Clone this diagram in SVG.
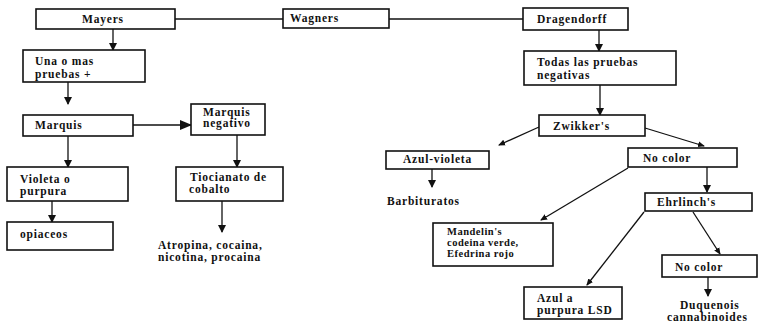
<svg xmlns="http://www.w3.org/2000/svg" width="769" height="324" viewBox="0 0 769 324">
<defs>
<marker id="ah" markerWidth="8" markerHeight="8" refX="7" refY="4" orient="auto" markerUnits="userSpaceOnUse">
<path d="M0,0 L8,4 L0,8 Z" fill="#111"/>
</marker>
<marker id="ahb" markerWidth="12" markerHeight="10" refX="11" refY="5" orient="auto" markerUnits="userSpaceOnUse">
<path d="M0,0 L12,5 L0,10 Z" fill="#111"/>
</marker>
<marker id="dot" markerWidth="8" markerHeight="8" refX="6" refY="4" orient="auto" markerUnits="userSpaceOnUse">
<path d="M0,1 L7,4 L0,7 Z" fill="#111"/>
</marker>
</defs>
<style>
rect{fill:#fff;stroke:#111;stroke-width:1.6}
text{font-family:"Liberation Serif","Times New Roman",serif;font-weight:bold;font-size:11.5px;letter-spacing:0.8px;fill:#111}
.sm{font-size:10.5px;letter-spacing:0.5px}
.c line,.c polyline{stroke:#111;stroke-width:1.3;fill:none}
</style>
<g class="c" id="connectors">
<line x1="175" y1="19" x2="283" y2="19"/>
<line x1="389" y1="19" x2="523" y2="19"/>
<line x1="113" y1="29" x2="113" y2="50" marker-end="url(#ah)"/>
<line x1="68" y1="82" x2="68" y2="104" marker-end="url(#ah)"/>
<line x1="133" y1="125" x2="191" y2="125" marker-end="url(#ahb)"/>
<line x1="68" y1="136" x2="68" y2="167" marker-end="url(#ah)"/>
<line x1="237" y1="135" x2="237" y2="167" marker-end="url(#ah)"/>
<line x1="52" y1="201" x2="52" y2="222" marker-end="url(#ah)"/>
<line x1="222" y1="201" x2="222" y2="232" marker-end="url(#ah)"/>
<line x1="599" y1="30" x2="599" y2="51" marker-end="url(#ah)"/>
<line x1="600" y1="85" x2="600" y2="115" marker-end="url(#ah)"/>
<line x1="539" y1="127" x2="499" y2="145" marker-end="url(#dot)"/>
<line x1="645" y1="128" x2="704" y2="146" marker-end="url(#dot)"/>
<line x1="432" y1="169" x2="432" y2="187" marker-end="url(#ah)"/>
<line x1="707" y1="167" x2="707" y2="192" marker-end="url(#ah)"/>
<line x1="628" y1="168" x2="541" y2="220" marker-end="url(#dot)"/>
<line x1="644" y1="212" x2="587" y2="285" marker-end="url(#dot)"/>
<line x1="693" y1="212" x2="720" y2="254" marker-end="url(#dot)"/>
<line x1="708" y1="277" x2="708" y2="296" marker-end="url(#ah)"/>
</g>
<g id="mayers"><rect x="36" y="9" width="139" height="20"/><text x="82" y="23">Mayers</text></g>
<g id="wagners"><rect x="283" y="9" width="106" height="19"/><text x="290" y="22">Wagners</text></g>
<g id="dragendorff"><rect x="523" y="8" width="105" height="22"/><text x="537" y="23">Dragendorff</text></g>
<g id="una"><rect x="23" y="50" width="122" height="32"/><text x="35" y="65">Una o mas</text><text x="35" y="78">pruebas +</text></g>
<g id="marquis"><rect x="23" y="115" width="110" height="21"/><text x="35" y="129">Marquis</text></g>
<g id="marquisneg"><rect x="191" y="104" width="74" height="31"/><text x="203" y="116">Marquis</text><text x="203" y="127">negativo</text></g>
<g id="violeta"><rect x="7" y="167" width="121" height="34"/><text x="20" y="183">Violeta o</text><text x="20" y="195">purpura</text></g>
<g id="opiaceos"><rect x="7" y="222" width="106" height="28"/><text x="20" y="238">opiaceos</text></g>
<g id="tiocianato"><rect x="176" y="167" width="107" height="34"/><text x="190" y="181">Tiocianato de</text><text x="189" y="193">cobalto</text></g>
<g id="atropina"><text x="158" y="249">Atropina, cocaina,</text><text x="158" y="261">nicotina, procaina</text></g>
<g id="todas"><rect x="524" y="51" width="152" height="34"/><text x="537" y="66">Todas las pruebas</text><text x="537" y="79">negativas</text></g>
<g id="zwikker"><rect x="539" y="115" width="106" height="21"/><text x="553" y="130">Zwikker's</text></g>
<g id="azulvioleta"><rect x="386" y="151" width="103" height="18"/><text x="403" y="163">Azul-violeta</text></g>
<g id="nocolor1"><rect x="628" y="148" width="109" height="19"/><text x="643" y="162">No color</text></g>
<g id="barbituratos"><text x="387" y="205">Barbituratos</text></g>
<g id="ehrlinch"><rect x="645" y="193" width="107" height="18"/><text x="657" y="206">Ehrlinch's</text></g>
<g id="mandelin"><rect x="433" y="223" width="120" height="43"/><text class="sm" x="447" y="235">Mandelin's</text><text class="sm" x="447" y="246">codeina  verde,</text><text class="sm" x="447" y="257">Efedrina rojo</text></g>
<g id="nocolor2"><rect x="662" y="255" width="95" height="22"/><text x="675" y="271">No color</text></g>
<g id="lsd"><rect x="524" y="287" width="98" height="32"/><text x="537" y="302">Azul a</text><text x="537" y="314">purpura LSD</text></g>
<g id="duquenois"><text x="680" y="309">Duquenois</text><text x="667" y="321">cannabinoides</text></g>
</svg>
